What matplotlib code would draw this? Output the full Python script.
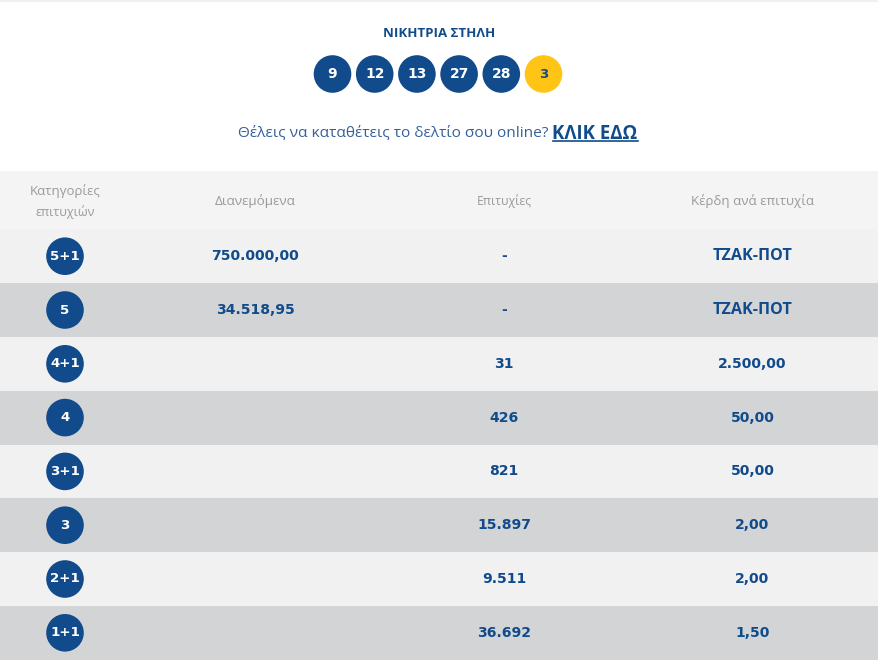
import matplotlib
matplotlib.use('Agg')
import matplotlib.pyplot as plt
from matplotlib.patches import Rectangle, Circle

plt.rcParams['font.family'] = ['Open Sans', 'DejaVu Sans']

# Data
winning_numbers = ['9', '12', '13', '27', '28']
bonus_number = '3'
headers = ['Διανεμόμενα', 'Επιτυχίες', 'Κέρδη ανά επιτυχία']
header_sizes = [9.7, 8.8, 9.5]
categories = ['5+1', '5', '4+1', '4', '3+1', '3', '2+1', '1+1']
distributed = ['750.000,00', '34.518,95', '', '', '', '', '', '']
winners = ['-', '-', '31', '426', '821', '15.897', '9.511', '36.692']
prizes = ['ΤΖΑΚ-ΠΟΤ', 'ΤΖΑΚ-ΠΟΤ', '2.500,00', '50,00', '50,00', '2,00', '2,00', '1,50']

BLUE = '#114b8b'
YELLOW = '#ffc516'
LIGHT = '#f1f1f1'
DARK = '#d3d4d6'
HEAD = '#f4f4f4'
GREY = '#9a9a9a'
WIDE = 'DejaVu Sans'

fig = plt.figure(figsize=(8.8, 6.64), dpi=100)
ax = fig.add_axes([0, 0, 1, 1])
ax.set_xlim(0, 880)
ax.set_ylim(664, 0)
ax.axis('off')

# top strip
ax.add_patch(Rectangle((0, 0), 878, 1.5, color='#f0f0f0', lw=0))

ax.text(439, 33.5, 'ΝΙΚΗΤΡΙΑ ΣΤΗΛΗ', color=BLUE, fontsize=9.5, fontweight='bold', ha='center', va='center')

# balls
ball_x = 332.5
for n in winning_numbers:
    ax.add_patch(Circle((ball_x, 74), 18.8, color=BLUE, lw=0))
    ax.text(ball_x, 74, n, color='white', fontsize=10, fontweight='bold', family=WIDE, ha='center', va='center')
    ball_x += 42.2
ax.add_patch(Circle((ball_x, 74), 18.8, color=YELLOW, lw=0))
ax.text(ball_x, 74, bonus_number, color=BLUE, fontsize=9.5, fontweight='bold', family=WIDE, ha='center', va='center')

# link line
ax.text(548, 134, 'Θέλεις να καταθέτεις το δελτίο σου online?', color='#35609a', fontsize=11.1, ha='right', va='center')
ax.text(552.5, 134, 'ΚΛΙΚ ΕΔΩ', color=BLUE, fontsize=13.4, fontweight='bold', ha='left', va='center')
ax.plot([552.5, 638], [140.5, 140.5], color=BLUE, lw=1.2)

# table header
ax.add_patch(Rectangle((0, 171), 878, 58.3, color=HEAD, lw=0))
ax.text(65, 191, 'Κατηγορίες', color=GREY, fontsize=9.5, ha='center', va='center')
ax.text(65, 212, 'επιτυχιών', color=GREY, fontsize=9, ha='center', va='center')
col_x = [255, 504, 752.5]
for x, h, s in zip(col_x, headers, header_sizes):
    ax.text(x, 201, h, color=GREY, fontsize=s, ha='center', va='center')

# table rows
row_h = 53.8
top = 229.3
for i, cat in enumerate(categories):
    y0 = top + i * row_h
    yc = y0 + row_h / 2
    ax.add_patch(Rectangle((0, y0), 878, row_h, color=DARK if i % 2 else LIGHT, lw=0))
    ax.add_patch(Circle((65, yc), 18.8, color=BLUE, lw=0))
    ax.text(65, yc, cat, color='white', fontsize=9.6, fontweight='bold', family=WIDE, ha='center', va='center')
    for x, val in zip(col_x, (distributed[i], winners[i], prizes[i])):
        if val.startswith('Τ'):
            ax.text(x, yc, val, color=BLUE, fontsize=11.6, fontweight='bold', ha='center', va='center')
        else:
            ax.text(x, yc, val, color=BLUE, fontsize=10.1, fontweight='bold', family=WIDE, ha='center', va='center')

fig.savefig('out.png', dpi=100)
